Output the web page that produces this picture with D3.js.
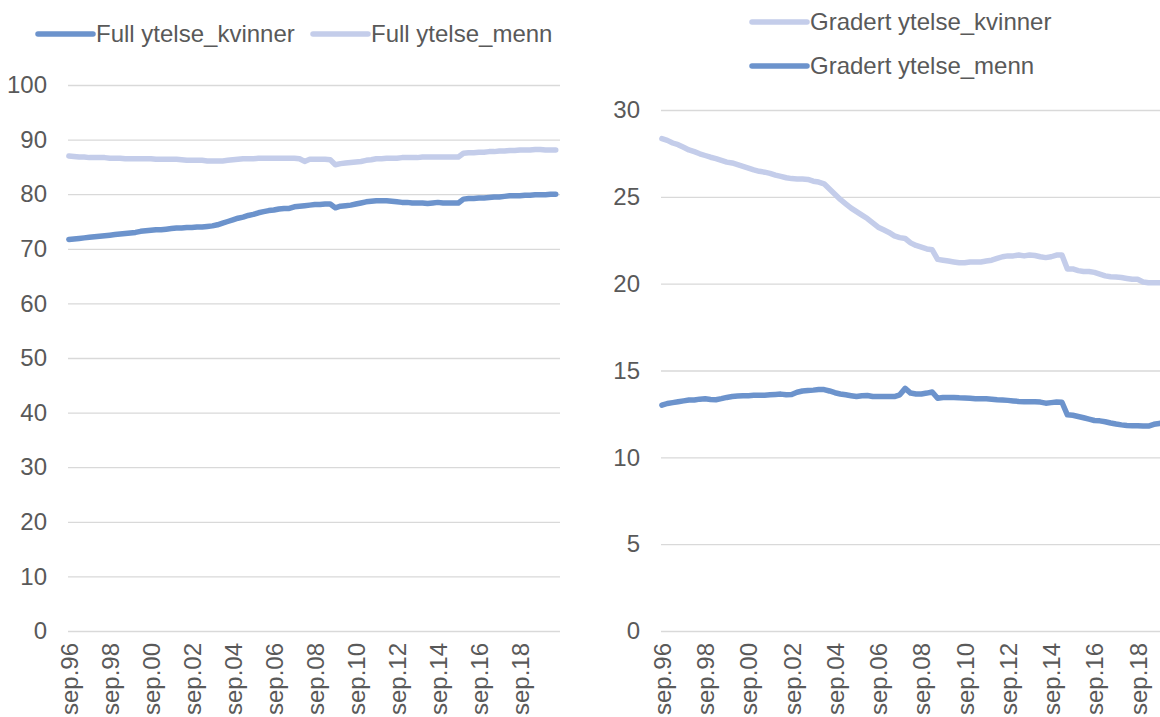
<!DOCTYPE html>
<html>
<head>
<meta charset="utf-8">
<script src="https://cdn.jsdelivr.net/npm/d3@7"></script>
<style>
  html, body { margin: 0; padding: 0; background: #fff; overflow: hidden; }
  svg { display: block; font-family: "Liberation Sans", Arial, sans-serif; }
</style>
</head>
<body>
<svg id="chart" width="1160" height="717"></svg>
<script>
// Month offsets from sep.96 (quarterly observations)
const quarters = d3.range(0, 288, 3);
const tickMonths = [0, 24, 48, 72, 96, 120, 144, 168, 192, 216, 240, 264];
const tickLabels = ["sep.96","sep.98","sep.00","sep.02","sep.04","sep.06","sep.08","sep.10","sep.12","sep.14","sep.16","sep.18"];

const fullKvinner = [
  71.7,71.8,71.9,72.0,72.1,72.2,72.3,72.4,72.5,72.6,72.7,72.8,72.9,73.0,73.2,73.3,
  73.4,73.5,73.5,73.6,73.7,73.8,73.8,73.9,73.9,74.0,74.0,74.1,74.2,74.4,74.7,75.0,
  75.3,75.6,75.8,76.1,76.3,76.6,76.8,77.0,77.1,77.3,77.4,77.4,77.7,77.8,77.9,78.0,
  78.1,78.1,78.2,78.2,77.5,77.8,77.9,78.0,78.2,78.4,78.6,78.7,78.8,78.8,78.8,78.7,
  78.6,78.5,78.5,78.4,78.4,78.4,78.3,78.4,78.5,78.4,78.4,78.4,78.4,79.1,79.2,79.2,
  79.3,79.3,79.4,79.5,79.5,79.6,79.7,79.7,79.7,79.8,79.8,79.9,79.9,79.9,80.0,80.0
];
const fullMenn = [
  87.0,86.9,86.8,86.8,86.7,86.7,86.7,86.7,86.6,86.6,86.6,86.5,86.5,86.5,86.5,86.5,
  86.5,86.4,86.4,86.4,86.4,86.4,86.3,86.2,86.2,86.2,86.2,86.1,86.1,86.1,86.1,86.2,
  86.3,86.4,86.5,86.5,86.5,86.6,86.6,86.6,86.6,86.6,86.6,86.6,86.6,86.5,86.0,86.4,
  86.4,86.4,86.4,86.3,85.4,85.6,85.7,85.8,85.9,86.0,86.2,86.3,86.5,86.5,86.6,86.6,
  86.6,86.7,86.7,86.7,86.7,86.8,86.8,86.8,86.8,86.8,86.8,86.8,86.8,87.5,87.6,87.6,
  87.7,87.7,87.8,87.8,87.9,87.9,88.0,88.0,88.1,88.1,88.1,88.2,88.2,88.1,88.1,88.1
];
const gradertKvinner = [
  28.35,28.25,28.1,28.0,27.85,27.7,27.6,27.48,27.38,27.28,27.2,27.1,27.0,26.95,26.85,26.75,
  26.65,26.55,26.47,26.42,26.35,26.25,26.18,26.1,26.05,26.03,26.02,26.0,25.9,25.85,25.75,25.45,
  25.15,24.85,24.6,24.35,24.15,23.95,23.75,23.5,23.25,23.1,22.95,22.75,22.65,22.6,22.35,22.2,
  22.1,22.0,21.95,21.4,21.35,21.3,21.25,21.2,21.2,21.25,21.25,21.25,21.3,21.35,21.45,21.55,
  21.6,21.6,21.65,21.6,21.65,21.62,21.55,21.5,21.55,21.65,21.65,20.85,20.85,20.75,20.7,20.7,
  20.65,20.55,20.45,20.4,20.38,20.35,20.3,20.25,20.25,20.1,20.05,20.05,20.05,20.05,20.0,20.0
];
const gradertMenn = [
  13.0,13.1,13.15,13.2,13.25,13.3,13.3,13.35,13.37,13.33,13.32,13.38,13.45,13.5,13.53,13.55,
  13.55,13.57,13.58,13.58,13.6,13.62,13.64,13.6,13.62,13.75,13.82,13.85,13.87,13.9,13.9,13.82,
  13.72,13.65,13.6,13.55,13.5,13.55,13.56,13.5,13.5,13.5,13.5,13.5,13.6,13.97,13.7,13.65,
  13.65,13.7,13.76,13.4,13.45,13.45,13.45,13.43,13.42,13.4,13.38,13.37,13.37,13.35,13.32,13.3,
  13.28,13.25,13.22,13.2,13.2,13.2,13.18,13.12,13.15,13.18,13.17,12.45,12.42,12.35,12.28,12.2,
  12.12,12.1,12.05,11.98,11.92,11.87,11.83,11.82,11.82,11.8,11.8,11.9,11.95,12.0,12.0,12.0
];

const leftTicks = [0,10,20,30,40,50,60,70,80,90,100];
const rightTicks = [0,5,10,15,20,25,30];

const dark = "#6C93CC";
const light = "#C4CDEA";
const textColor = "#595959";
const gridColor = "#D9D9D9";
const fontSize = 24;

const svg = d3.select("#chart");

function drawPanel(cfg) {
  const x = d3.scaleLinear().domain([0, 288]).range([cfg.left, cfg.right]);
  const y = d3.scaleLinear().domain(cfg.yDomain).range([cfg.bottom, cfg.top]);
  const g = svg.append("g");

  // y axis with gridlines
  const yAxis = d3.axisLeft(y).tickValues(cfg.yTicks).tickFormat(d3.format("d"))
    .tickSizeInner(-(cfg.right - cfg.left)).tickSizeOuter(0).tickPadding(21);
  const ya = g.append("g").attr("transform", `translate(${cfg.left},0)`).call(yAxis);
  ya.select(".domain").remove();
  ya.selectAll(".tick line").attr("stroke", gridColor).attr("stroke-width", 1.3);
  ya.selectAll(".tick text").attr("fill", textColor).attr("font-size", fontSize)
    .attr("font-family", "Liberation Sans, Arial, sans-serif");

  // x axis with rotated labels
  const xAxis = d3.axisBottom(x).tickValues(tickMonths.map(m => m + 0.5))
    .tickFormat((d, i) => tickLabels[i]).tickSize(0);
  const xa = g.append("g").attr("transform", `translate(0,${cfg.bottom})`).call(xAxis);
  xa.select(".domain").remove();
  xa.selectAll(".tick text")
    .attr("fill", textColor).attr("font-size", fontSize)
    .attr("font-family", "Liberation Sans, Arial, sans-serif")
    .attr("transform", "rotate(-90)")
    .attr("text-anchor", "end")
    .attr("x", -12).attr("y", 0).attr("dy", "0.35em");

  // lines
  const line = d3.line().x((d, i) => x(quarters[i] + 0.5)).y(d => y(d));
  cfg.series.forEach(s => {
    g.append("path").datum(s.values)
      .attr("fill", "none").attr("stroke", s.color).attr("stroke-width", 5.5)
      .attr("stroke-linejoin", "round").attr("stroke-linecap", "round")
      .attr("d", line);
  });

  // legend
  cfg.legend.forEach(l => {
    g.append("line").attr("x1", l.x).attr("x2", l.x + 55).attr("y1", l.y).attr("y2", l.y)
      .attr("stroke", l.color).attr("stroke-width", 5.5).attr("stroke-linecap", "round");
    g.append("text").attr("x", l.x + 58).attr("y", l.y).attr("dy", "0.35em")
      .attr("fill", textColor).attr("font-size", fontSize)
      .text(l.label);
  });
}

drawPanel({
  left: 68, right: 560, top: 85, bottom: 631, yDomain: [0, 100], yTicks: leftTicks,
  series: [ { values: fullMenn, color: light }, { values: fullKvinner, color: dark } ],
  legend: [
    { x: 38, y: 34, color: dark, label: "Full ytelse_kvinner" },
    { x: 313, y: 34, color: light, label: "Full ytelse_menn" }
  ]
});

drawPanel({
  left: 661, right: 1180, top: 110, bottom: 631, yDomain: [0, 30], yTicks: rightTicks,
  series: [ { values: gradertKvinner, color: light }, { values: gradertMenn, color: dark } ],
  legend: [
    { x: 752, y: 22, color: light, label: "Gradert ytelse_kvinner" },
    { x: 752, y: 66, color: dark, label: "Gradert ytelse_menn" }
  ]
});
</script>
</body>
</html>
